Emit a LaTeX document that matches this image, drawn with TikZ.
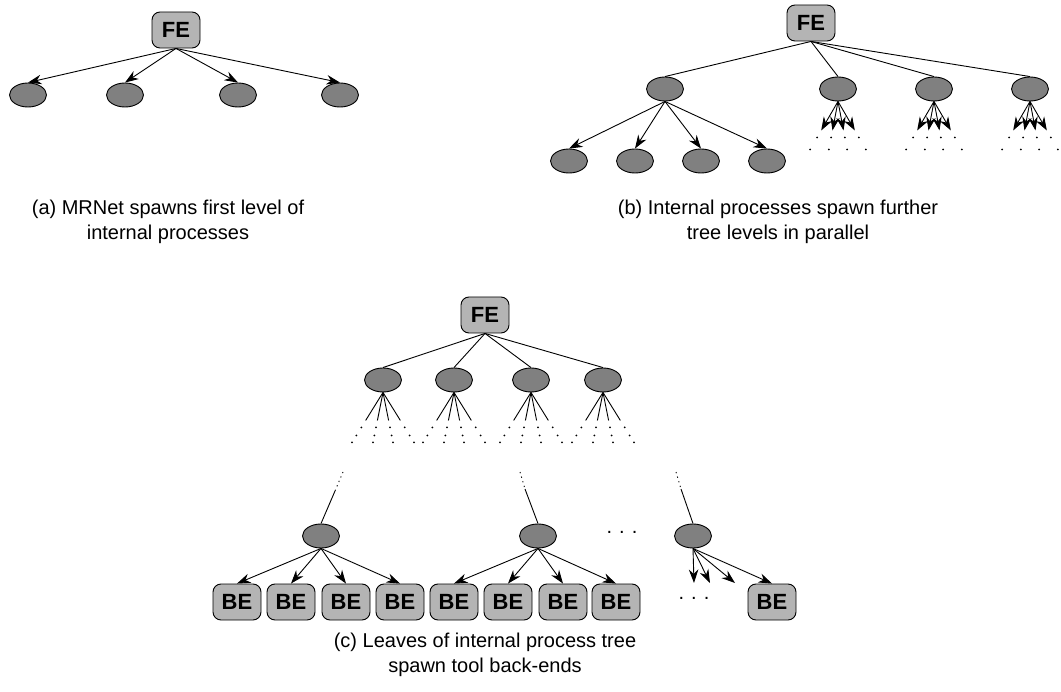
\documentclass[tikz,border=0pt]{standalone}
\usepackage{fontspec}
\setmainfont{Liberation Sans}
\usetikzlibrary{shapes.geometric,arrows.meta}
\definecolor{procgray}{RGB}{128,128,128}
\definecolor{boxgray}{RGB}{180,180,180}

\begin{document}
\begin{tikzpicture}[x=1pt,y=-1pt,line width=0.9pt,
	>={Stealth[length=13.5pt,width=9.5pt]},
	proc/.style={ellipse,draw,fill=procgray,minimum width=37pt,minimum height=24pt,inner sep=0pt},
	endpt/.style={draw,fill=boxgray,rounded corners=8pt,minimum width=48pt,minimum height=36pt,inner sep=0pt,font=\fontsize{22}{26}\selectfont\bfseries},
	caption/.style={align=center,font=\fontsize{20}{25}\selectfont},
	more/.style={font=\fontsize{20}{24}\selectfont}]
	\useasboundingbox (0,0) rectangle (1061,692);

	% (a) first level
	\node[endpt] (a-fe) at (176,30) {FE};
	\node[proc] (a-1) at (28,95) {};
	\node[proc] (a-2) at (125,95) {};
	\node[proc] (a-3) at (238,95) {};
	\node[proc] (a-4) at (340,95) {};
	\path[->]
	(a-fe.south) edge (a-1.north)
				edge (a-2.north)
				edge (a-3.north)
				edge (a-4.north);
	\node[caption] (a-cap) at (168,222) {(a) MRNet spawns first level of\\internal processes};

	% (b) further levels
	\node[endpt] (b-fe) at (811,23) {FE};
	\node[proc] (b-1) at (665,89) {};
	\node[proc] (b-2) at (838,89) {};
	\node[proc] (b-3) at (934,89) {};
	\node[proc] (b-4) at (1030,89) {};
	\node[proc] (b-1-1) at (569,161) {};
	\node[proc] (b-1-2) at (635,161) {};
	\node[proc] (b-1-3) at (701,161) {};
	\node[proc] (b-1-4) at (767,161) {};
	\path
	(b-fe.south) edge (b-1.north)
				edge (b-2.north)
				edge (b-3.north)
				edge (b-4.north);
	\path[->]
	(b-1.south) edge (b-1-1.north)
				edge (b-1-2.north)
				edge (b-1-3.north)
				edge (b-1-4.north);
	\foreach \p in {b-2,b-3,b-4}
		\foreach \s [count=\i] in {-0.58,-0.19,0.19,0.58} {
			\coordinate (\p-t\i) at ([shift={(\s*29,29)}]\p.south);
			\draw[->] (\p.south) -- (\p-t\i);
			\fill ([shift={(\s*36,36)}]\p.south) circle (1pt)
				([shift={(\s*48,48)}]\p.south) circle (1pt);
		}
	\node[caption] (b-cap) at (778,222) {(b) Internal processes spawn further\\tree levels in parallel};

	% (c) back-ends
	\node[endpt] (c-fe) at (485,315) {FE};
	\node[proc] (c-1) at (383,380) {};
	\node[proc] (c-2) at (454,380) {};
	\node[proc] (c-3) at (531,380) {};
	\node[proc] (c-4) at (603,380) {};
	\path
	(c-fe.south) edge (c-1.north)
				edge (c-2.north)
				edge (c-3.north)
				edge (c-4.north);
	\foreach \p in {c-1,c-2,c-3,c-4}
		\foreach \s [count=\i] in {-0.62,-0.2,0.2,0.62} {
			\coordinate (\p-t\i) at ([shift={(\s*28,28)}]\p.south);
			\draw (\p.south) -- (\p-t\i);
			\fill ([shift={(\s*35,35)}]\p.south) circle (1pt)
				([shift={(\s*43,43)}]\p.south) circle (1pt)
				([shift={(\s*50,50)}]\p.south) circle (1pt);
		}

	\node[proc] (c-m1) at (321,536) {};
	\node[proc] (c-m2) at (538,536) {};
	\node[proc] (c-m3) at (693,536) {};
	\node[more] (c-gap) at (622,532) {.\kern7pt.\kern7pt.};
	\coordinate (c-m1-up) at (343,472);
	\coordinate (c-m1-brk) at (335,491);
	\coordinate (c-m2-up) at (520,472);
	\coordinate (c-m2-brk) at (525,489);
	\coordinate (c-m3-up) at (676,472);
	\coordinate (c-m3-brk) at (681,489);
	\path[dash pattern=on 1.2pt off 3.6pt]
	(c-m1-up) edge (c-m1-brk)
	(c-m2-up) edge (c-m2-brk)
	(c-m3-up) edge (c-m3-brk);
	\path
	(c-m1-brk) edge (c-m1.north)
	(c-m2-brk) edge (c-m2.north)
	(c-m3-brk) edge (c-m3.north);

	\node[endpt] (c-be1) at (237,602) {BE};
	\node[endpt] (c-be2) at (291,602) {BE};
	\node[endpt] (c-be3) at (346,602) {BE};
	\node[endpt] (c-be4) at (400,602) {BE};
	\node[endpt] (c-be5) at (454,602) {BE};
	\node[endpt] (c-be6) at (508,602) {BE};
	\node[endpt] (c-be7) at (563,602) {BE};
	\node[endpt] (c-be8) at (616,602) {BE};
	\node[more] (c-gap2) at (694,598) {.\kern7pt.\kern7pt.};
	\node[endpt] (c-be9) at (772,602) {BE};
	\coordinate (c-m3-t1) at (694,583);
	\coordinate (c-m3-t2) at (710,583);
	\coordinate (c-m3-t3) at (735,583);
	\path[->]
	(c-m1.south) edge (c-be1.north)
				edge (c-be2.north)
				edge (c-be3.north)
				edge (c-be4.north)
	(c-m2.south) edge (c-be5.north)
				edge (c-be6.north)
				edge (c-be7.north)
				edge (c-be8.north)
	(c-m3.south) edge (c-m3-t1)
				edge (c-m3-t2)
				edge (c-m3-t3)
				edge (c-be9.north);
	\node[caption] (c-cap) at (485,655) {(c) Leaves of internal process tree\\spawn tool back-ends};
\end{tikzpicture}
\end{document}
